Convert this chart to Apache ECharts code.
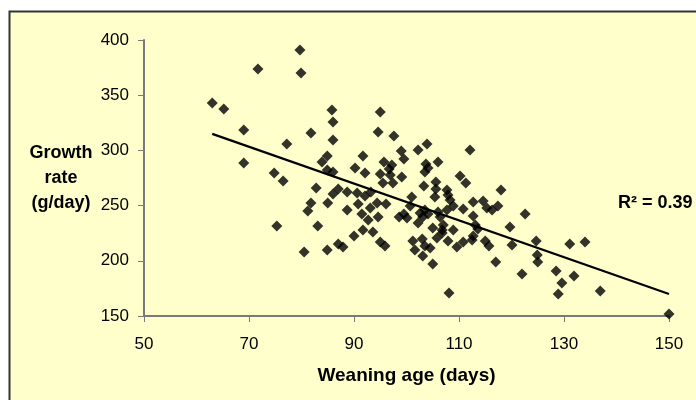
<!DOCTYPE html>
<html>
<head>
<meta charset="utf-8">
<script src="https://cdn.jsdelivr.net/npm/echarts@6/dist/echarts.min.js"></script>
<style>
  html, body { margin: 0; padding: 0; background: #fff; }
  #chart { width: 696px; height: 400px; }
</style>
</head>
<body>
<div id="chart"></div>
<script>
// weaning age (days) vs growth rate (g/day)
var weaningAge = [
  63.0, 65.2, 71.7, 69.0, 69.0, 77.2, 74.8, 76.5, 75.3, 79.7,
  79.9, 81.8, 80.5, 81.2, 81.8, 82.8, 83.1, 84.9, 85.8, 86.0,
  86.0, 84.9, 83.9, 84.9, 86.0, 85.0, 87.0, 86.0, 87.0, 87.9,
  88.7, 88.7, 90.6, 91.7, 90.2, 92.1, 95.0, 94.6, 97.6, 95.0,
  96.9, 95.7, 97.2, 96.7, 95.5, 97.4, 92.1, 93.2, 90.8, 93.1,
  91.5, 94.4, 96.1, 94.6, 92.7, 91.7, 90.0, 93.6, 95.0, 95.9,
  98.6, 99.5, 100.1, 99.0, 99.5, 99.1, 102.2, 103.9, 106.0, 103.7,
  104.1, 103.5, 101.0, 103.3, 105.6, 105.6, 105.4, 107.7, 107.9, 108.3,
  100.7, 103.5, 104.1, 102.2, 103.1, 102.6, 105.0, 106.8, 106.4, 106.0,
  107.7, 108.9, 107.0, 101.2, 103.0, 103.5, 104.5, 101.6, 103.1, 105.0,
  105.8, 107.9, 108.9, 109.6, 110.8, 108.1, 112.1, 110.2, 111.3, 112.7,
  114.6, 117.4, 116.3, 118.0, 110.8, 115.3, 112.7, 113.1, 113.6, 112.7,
  112.5, 115.0, 115.7, 106.8, 117.0, 120.1, 119.7, 122.6, 124.7, 124.9,
  125.0, 122.0, 128.5, 129.6, 128.9, 131.9, 131.1, 134.0, 136.9, 150.0
];
var growthRate = [
  343, 337.5, 373.7, 318.5, 288.6, 305.8, 279.5, 272.3, 231.5, 390.9,
  370.1, 315.8, 208.0, 245.1, 252.4, 265.9, 231.5, 209.8, 336.6, 325.7,
  309.4, 295.0, 289.5, 282.2, 280.4, 252.4, 265.0, 260.5, 215.2, 212.5,
  246.0, 262.3, 261.4, 295.0, 284.1, 279.5, 334.8, 316.7, 313.0, 278.6,
  277.7, 289.5, 286.8, 283.2, 270.5, 270.5, 258.7, 262.3, 251.4, 247.8,
  242.4, 252.4, 251.4, 239.7, 237.0, 227.9, 222.5, 226.1, 217.0, 213.4,
  239.7, 242.4, 238.8, 299.5, 292.2, 275.9, 300.4, 305.8, 289.5, 287.7,
  284.1, 280.4, 257.8, 267.8, 271.4, 265.0, 257.8, 264.1, 259.6, 255.1,
  249.6, 246.0, 242.4, 234.2, 239.7, 243.3, 229.7, 227.9, 239.7, 244.2,
  246.0, 249.6, 232.4, 217.9, 219.7, 213.4, 211.6, 209.8, 204.3, 197.1,
  220.7, 217.9, 227.9, 212.5, 217.0, 170.8, 300.4, 276.8, 270.5, 253.3,
  254.2, 249.6, 246.0, 264.1, 246.9, 247.8, 240.6, 232.4, 228.8, 222.5,
  218.8, 217.9, 213.4, 225.2, 198.9, 214.3, 230.6, 242.4, 217.9, 205.3,
  198.9, 188.0, 190.8, 179.9, 169.9, 186.2, 215.2, 217.0, 172.6, 151.8
];

// linear trend line ends
var trendAge = [63, 150];
var trendRate = [315, 170];
var rSquared = '0.39';

var xTicks = [50, 70, 90, 110, 130, 150];
var yTicks = [150, 200, 250, 300, 350, 400];

var chart = echarts.init(document.getElementById('chart'));

var points = weaningAge.map(function (a, i) { return [a, growthRate[i]]; });
var trend = trendAge.map(function (a, i) { return [a, trendRate[i]]; });

var font = 'Liberation Sans, Arial, sans-serif';
var axisGray = '#7a7a7a';

var option = {
  backgroundColor: '#ffffff',
  animation: false,
  textStyle: { fontFamily: font },
  graphic: [
    {
      type: 'rect',
      z: -10,
      shape: { x: 9.5, y: 11.5, width: 720, height: 420 },
      style: { fill: '#ffffcc', stroke: '#333333', lineWidth: 2 }
    },
    {
      type: 'text',
      left: 618,
      top: 194,
      style: {
        text: 'R² = ' + rSquared,
        font: 'bold 18px ' + font,
        fill: '#000'
      }
    }
  ],
  grid: { left: 144, right: 27, top: 40, bottom: 84 },
  xAxis: {
    type: 'value',
    min: xTicks[0],
    max: xTicks[xTicks.length - 1],
    interval: xTicks[1] - xTicks[0],
    name: 'Weaning age (days)',
    nameLocation: 'middle',
    nameGap: 60,
    nameTextStyle: { fontSize: 19, fontWeight: 'bold', color: '#000', verticalAlign: 'middle' },
    axisLine: { lineStyle: { color: axisGray, width: 2 } },
    axisTick: { show: true, length: 6, lineStyle: { color: axisGray, width: 1 } },
    axisLabel: { fontSize: 17, color: '#000', margin: 20 },
    splitLine: { show: false }
  },
  yAxis: {
    type: 'value',
    min: yTicks[0],
    max: yTicks[yTicks.length - 1],
    interval: yTicks[1] - yTicks[0],
    name: 'Growth\nrate\n(g/day)',
    nameLocation: 'middle',
    nameRotate: 0,
    nameGap: 83,
    nameTextStyle: {
      fontSize: 18, fontWeight: 'bold', color: '#000',
      align: 'center', verticalAlign: 'middle', lineHeight: 25
    },
    axisLine: { show: true, lineStyle: { color: axisGray, width: 2 } },
    axisTick: { show: true, length: 6, lineStyle: { color: axisGray, width: 1 } },
    axisLabel: { fontSize: 17, color: '#000', margin: 15 },
    splitLine: { show: false }
  },
  series: [
    {
      type: 'scatter',
      data: points,
      symbol: 'diamond',
      symbolSize: 11,
      itemStyle: { color: '#000000' },
      z: 3
    },
    {
      type: 'line',
      data: trend,
      symbol: 'none',
      lineStyle: { color: '#000000', width: 2.2 },
      z: 2
    }
  ]
};

chart.setOption(option);
</script>
</body>
</html>
